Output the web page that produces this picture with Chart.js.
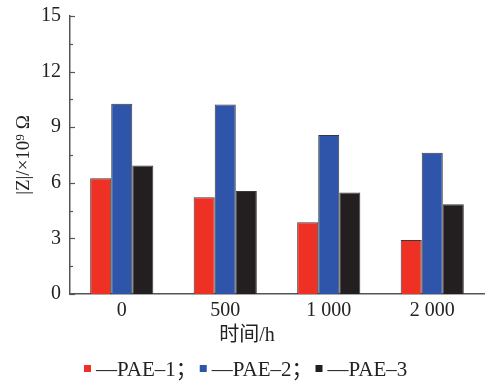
<!DOCTYPE html>
<html>
<head>
<meta charset="utf-8">
<script src="https://cdn.jsdelivr.net/npm/chart.js@4"></script>
<style>
  body { margin: 0; background: #fff; }
  #wrap { width: 499px; height: 385px; }
</style>
</head>
<body>
<div id="wrap"><canvas id="zChart" width="499" height="385"></canvas></div>
<script>
const times = ['0', '500', '1 000', '2 000'];
const pae1 = [6.24, 5.22, 3.87, 2.91];
const pae2 = [10.27, 10.22, 8.58, 7.62];
const pae3 = [6.94, 5.56, 5.47, 4.84];
const yTicks = [0, 3, 6, 9, 12, 15];

const serif = '"Liberation Serif", "Times New Roman", "Noto Sans CJK SC", serif';
const xTitle = '时间/h';

// little inward ticks on the y axis, major every 3 and minor between
const inwardTicks = {
  id: 'inwardTicks',
  afterDraw(chart) {
    const y = chart.scales.y, area = chart.chartArea, c = chart.ctx;
    c.save();
    c.strokeStyle = '#555';
    c.lineWidth = 1.2;
    for (let v = 0; v <= 15; v += 1.5) {
      const py = Math.round(y.getPixelForValue(v)) + 0.5;
      const len = (v % 3 === 0) ? 5 : 3;
      c.beginPath();
      c.moveTo(area.left, py);
      c.lineTo(area.left + len, py);
      c.stroke();
    }
    c.restore();
  }
};

// x title sits centred on the page in the paper, not on the plot
// and the legend is one line: small square, then "—name"
const paperText = {
  id: 'paperText',
  afterDraw(chart) {
    const c = chart.ctx;
    const sets = chart.data.datasets;
    c.save();
    c.fillStyle = '#222';
    c.font = '20px ' + serif;
    c.textAlign = 'center';
    c.textBaseline = 'middle';
    c.fillText(xTitle, 247, 336);

    c.textAlign = 'left';
    c.textBaseline = 'alphabetic';
    c.font = '21px ' + serif;
    const box = 7, gapBox = 5, gapItem = 3;
    let x = 84;
    const base = 376;
    sets.forEach(d => {
      c.fillStyle = d.backgroundColor;
      c.fillRect(x, base - 11, box, box);
      x += box + gapBox;
      c.fillStyle = '#222';
      c.fillText(d.label, x, base);
      x += c.measureText(d.label).width + gapItem;
    });
    c.restore();
  }
};

const ctx = document.getElementById('zChart');
new Chart(ctx, {
  type: 'bar',
  data: {
    labels: times,
    datasets: [
      { label: '\u2014PAE\u20131\uFF1B', data: pae1, backgroundColor: '#ee3124', borderColor: '#3a3a3a', borderWidth: 1 },
      { label: '\u2014PAE\u20132\uFF1B', data: pae2, backgroundColor: '#2e55aa', borderColor: '#3a3a3a', borderWidth: 1 },
      { label: '\u2014PAE\u20133', data: pae3, backgroundColor: '#231f20', borderColor: '#3a3a3a', borderWidth: 1 }
    ]
  },
  options: {
    responsive: false,
    animation: false,
    categoryPercentage: 0.61,
    barPercentage: 1.0,
    layout: { padding: { top: 16, right: 15, left: 0, bottom: 35 } },
    plugins: {
      tooltip: { enabled: false },
      legend: { display: false }
    },
    scales: {
      x: {
        afterFit(axis) { axis.height = 56; axis.paddingLeft = 0; axis.paddingRight = 0; },
        grid: { display: false, drawTicks: false },
        border: { display: true, color: '#555', width: 1.5 },
        ticks: { color: '#222', padding: 5, font: { family: serif, size: 20 } }
      },
      y: {
        min: 0,
        max: 15,
        afterBuildTicks(axis) {
          axis.ticks = yTicks.map(v => ({ value: v }));
        },
        afterFit(axis) { axis.width = 70; axis.paddingTop = 0; axis.paddingBottom = 0; },
        grid: { display: false, drawTicks: false },
        border: { display: true, color: '#555', width: 1.5 },
        ticks: { color: '#222', padding: 9, font: { family: serif, size: 20 } },
        title: {
          display: true,
          text: '|Z|/\u00D710\u2079 \u03A9',
          color: '#222',
          padding: { top: 13, bottom: 0 },
          font: { family: serif, size: 19 }
        }
      }
    }
  },
  plugins: [inwardTicks, paperText]
});
</script>
</body>
</html>
